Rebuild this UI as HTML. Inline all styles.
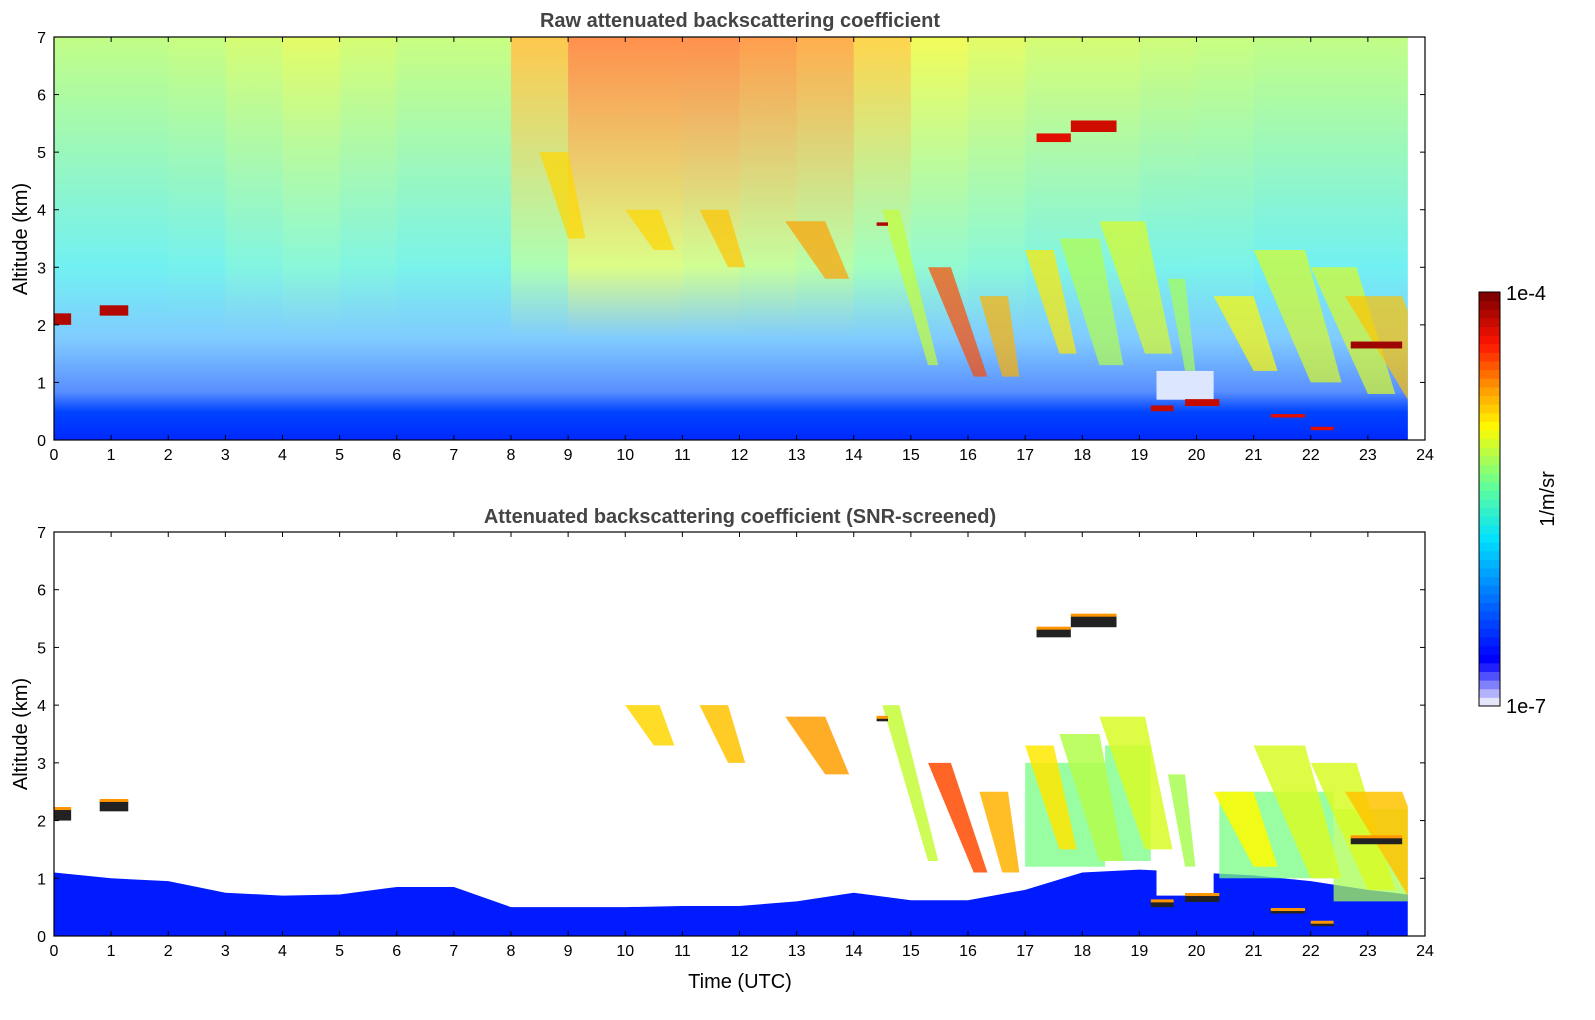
<!DOCTYPE html>
<html><head><meta charset="utf-8"><style>
html,body{margin:0;padding:0;background:#fff;overflow:hidden;width:1595px;height:1020px;}
svg{display:block;font-family:"Liberation Sans","DejaVu Sans",sans-serif;}
</style></head><body>
<svg id="fig" width="1595" height="1020" viewBox="0 0 1595 1020" xmlns="http://www.w3.org/2000/svg">
<defs id="defs"></defs>
<text x="740" y="27" text-anchor="middle" font-size="20" font-weight="bold" fill="#444">Raw attenuated backscattering coefficient</text>
<text x="740" y="523" text-anchor="middle" font-size="20" font-weight="bold" fill="#444">Attenuated backscattering coefficient (SNR-screened)</text>
<text x="740" y="988" text-anchor="middle" font-size="20" fill="#000">Time (UTC)</text>
<text transform="translate(27,239) rotate(-90)" text-anchor="middle" font-size="20">Altitude (km)</text>
<text transform="translate(27,734) rotate(-90)" text-anchor="middle" font-size="20">Altitude (km)</text>
<g id="top"></g>
<g id="bot"></g>
<g id="cbar"></g>
<text x="1506" y="300" font-size="20">1e-4</text>
<text x="1506" y="713" font-size="20">1e-7</text>
<text transform="translate(1554,499) rotate(-90)" text-anchor="middle" font-size="20">1/m/sr</text>
</svg>
<script>
// ---- data ----
const hours = [0,1,2,3,4,5,6,7,8,9,10,11,12,13,14,15,16,17,18,19,20,21,22,23,24];
const altTicks = [0,1,2,3,4,5,6,7];
// raw background level at 7 km and at 3 km per hour (0..1 colour index)
const bgTop = [0.55,0.55,0.56,0.58,0.6,0.58,0.56,0.56,0.72,0.8,0.8,0.8,0.78,0.76,0.7,0.62,0.6,0.58,0.58,0.57,0.56,0.55,0.55,0.55,0.55];
const bgMid = [0.36,0.36,0.37,0.4,0.42,0.4,0.38,0.38,0.5,0.58,0.58,0.56,0.54,0.52,0.48,0.44,0.42,0.4,0.4,0.38,0.38,0.36,0.36,0.36,0.36];
// boundary layer top (km) in screened panel
const blTop = [1.1,1.0,0.95,0.75,0.7,0.72,0.85,0.85,0.5,0.5,0.5,0.52,0.52,0.6,0.75,0.62,0.62,0.8,1.1,1.15,1.1,1.05,0.95,0.8,0.7];
// slanted ice-cloud streaks
const strT   = [8.5, 10.0,11.3,12.8,14.5,15.3,16.2,17.0,17.6,18.3,19.5,20.3,21.0,22.0,22.6];
const strTop = [5.0, 4.0, 4.0, 3.8, 4.0, 3.0, 2.5, 3.3, 3.5, 3.8, 2.8, 2.5, 3.3, 3.0, 2.5];
const strBot = [3.5, 3.3, 3.0, 2.8, 1.3, 1.1, 1.1, 1.5, 1.3, 1.5, 1.2, 1.2, 1.0, 0.8, 0.7];
const strDx  = [0.5, 0.5, 0.5, 0.7, 0.8, 0.8, 0.4, 0.6, 0.7, 0.8, 0.3, 0.7, 1.0, 1.0, 1.1];
const strW   = [0.5, 0.6, 0.5, 0.7, 0.3, 0.4, 0.5, 0.5, 0.7, 0.8, 0.3, 0.7, 0.9, 0.8, 1.0];
const strV   = [0.68,0.68,0.7, 0.74,0.58,0.82,0.72,0.66,0.56,0.6, 0.55,0.64,0.6, 0.6, 0.7];
const strShow= [0,   1,   1,   1,   1,   1,   1,   1,   1,   1,   1,   1,   1,   1,   1];
// dense cloud layers (rectangles)
const layT0 = [0.0,0.8,14.4,17.2,17.8,19.2,19.8,22.7,21.3,22.0];
const layT1 = [0.3,1.3,14.6,17.8,18.6,19.6,20.4,23.6,21.9,22.4];
const layA  = [2.1,2.25,3.75,5.25,5.45,0.55,0.65,1.65,0.42,0.2];
const layH  = [0.2,0.18,0.06,0.15,0.2,0.1,0.12,0.12,0.06,0.06];
const layV  = [0.95,0.95,0.95,0.9,0.92,0.93,0.93,0.97,0.9,0.9];
// screened-panel filled cirrus regions
const regT0 = [17.0,18.4,20.4,22.4];
const regT1 = [18.4,19.2,22.4,23.7];
const regB  = [1.2, 1.3, 1.0, 0.6];
const regTp = [3.0, 3.3, 2.5, 2.2];
const regV  = [0.5, 0.5, 0.5, 0.55];

const NS="http://www.w3.org/2000/svg";
const X0=54,X1=1425,DATA_END=23.7;
function xs(t){return X0+(X1-X0)*t/24;}
function ysT(a){return 440-403*a/7;}
function ysB(a){return 936-404*a/7;}
function cl(v){return Math.max(0,Math.min(1,v));}
function cmap(v){
  const st=[[0,[0,0,255]],[0.33,[0,225,255]],[0.48,[100,255,150]],[0.64,[255,250,0]],[0.75,[255,150,0]],[0.87,[255,20,0]],[1,[130,0,0]]];
  v=cl(v);
  for(let i=1;i<st.length;i++){if(v<=st[i][0]){const a=st[i-1],b=st[i];const f=(v-a[0])/(b[0]-a[0]);
    return 'rgb('+a[1].map((c,k)=>Math.round(c+(b[1][k]-c)*f)).join(',')+')';}}
  return 'rgb(130,0,0)';
}
function lighten(v,f){const m=cmap(v).match(/\d+/g).map(Number);return 'rgb('+m.map(c=>Math.round(c+(255-c)*f)).join(',')+')';}
function el(tag,attrs,parent){const e=document.createElementNS(NS,tag);for(const k in attrs)e.setAttribute(k,attrs[k]);parent.appendChild(e);return e;}
const defs=document.getElementById('defs');

function drawPanel(g,ys,raw){
  const y0=ys(0),y7=ys(7);
  const clipId=raw?'clipT':'clipB';
  const cp=el('clipPath',{id:clipId},defs);
  el('rect',{x:X0,y:y7,width:xs(DATA_END)-X0,height:y0-y7},cp);
  const inner=el('g',{'clip-path':'url(#'+clipId+')'},g);
  if(raw){
    for(let i=0;i<24;i++){
      const t1=Math.min(hours[i+1],DATA_END); if(hours[i]>=DATA_END)break;
      const gid='bg'+i;
      const lg=el('linearGradient',{id:gid,x1:0,y1:1,x2:0,y2:0},defs);
      el('stop',{offset:0,'stop-color':cmap(0.06)},lg);
      el('stop',{offset:0.07,'stop-color':cmap(0.1)},lg);
      el('stop',{offset:0.12,'stop-color':lighten(0.12,0.35)},lg);
      el('stop',{offset:0.25,'stop-color':lighten(0.22,0.5)},lg);
      el('stop',{offset:0.43,'stop-color':lighten(bgMid[i],0.4)},lg);
      el('stop',{offset:1,'stop-color':lighten(bgTop[i],0.3)},lg);
      const r=el('rect',{x:xs(hours[i]),y:y7,width:xs(t1)-xs(hours[i])+0.6,height:y0-y7,fill:'url(#'+gid+')'},inner);
      
      
    }
  } else {
    let pts=hours.filter(h=>h<=23).map((h,i)=>xs(h)+','+ys(blTop[i]));
    pts.push(xs(DATA_END)+','+ys(blTop[23]*0.9));
    pts.push(xs(DATA_END)+','+y0, xs(0)+','+y0);
    const p=el('polygon',{points:pts.join(' '),fill:cmap(0.04)},inner);
    
    
    for(let i=0;i<regT0.length;i++){
      const r=el('rect',{x:xs(regT0[i]),y:ys(regTp[i]),width:xs(regT1[i])-xs(regT0[i]),height:ys(regB[i])-ys(regTp[i]),fill:cmap(regV[i]),opacity:0.75},inner);
      
      
    }
  }
  for(let i=0;i<strT.length;i++){
    if(!raw && !strShow[i])continue;
    const top=strTop[i],bot=strBot[i];
    const pts=[[strT[i],top],[strT[i]+strW[i],top],[strT[i]+strDx[i]+strW[i]*0.6,bot],[strT[i]+strDx[i],bot]]
      .map(p=>xs(p[0])+','+ys(p[1])).join(' ');
    const p=el('polygon',{points:pts,fill:cmap(strV[i]),opacity:raw?0.7:0.85},inner);
    
    
  }
  const hole=el('rect',{x:xs(19.3),y:ys(1.2),width:xs(20.3)-xs(19.3),height:ys(0.7)-ys(1.2),fill:raw?'#dde6ff':'#fff'},inner);
  
  
  for(let i=0;i<layT0.length;i++){
    const r=el('rect',{x:xs(layT0[i]),y:ys(layA[i]+layH[i]/2),width:xs(layT1[i])-xs(layT0[i]),height:ys(0)-ys(layH[i]),fill:raw?cmap(layV[i]):'#222'},inner);
    
    
    if(!raw){
      const r2=el('rect',{x:xs(layT0[i]),y:ys(layA[i]+layH[i]/2)-2,width:xs(layT1[i])-xs(layT0[i]),height:3,fill:cmap(0.75)},inner);
      
      
    }
  }
  const fr=el('rect',{x:X0,y:y7,width:X1-X0,height:y0-y7,fill:'none',stroke:'#000','stroke-width':1.2},g);
  
  
  hours.forEach(h=>{
    el('line',{x1:xs(h),x2:xs(h),y1:y0,y2:y0-5,stroke:'#000'},g);
    el('line',{x1:xs(h),x2:xs(h),y1:y7,y2:y7+5,stroke:'#000'},g);
    const t=el('text',{x:xs(h),y:y0+20,'text-anchor':'middle','font-size':16},g);
    
    
    t.textContent=h;
  });
  altTicks.forEach(a=>{
    el('line',{x1:X0,x2:X0+5,y1:ys(a),y2:ys(a),stroke:'#000'},g);
    el('line',{x1:X1,x2:X1-5,y1:ys(a),y2:ys(a),stroke:'#000'},g);
    const t=el('text',{x:X0-8,y:ys(a)+6,'text-anchor':'end','font-size':16},g);
    
    
    t.textContent=a;
  });
}
drawPanel(document.getElementById('top'),ysT,true);
drawPanel(document.getElementById('bot'),ysB,false);
const cb=document.getElementById('cbar');
const N=48,CY0=706,CY1=292;
for(let i=0;i<N;i++){
  let fill;
  if(i<5){const lav=['#e6e6fa','#b3b3fb','#8080fc','#5050fd','#2020fe'];fill=lav[i];}
  else fill=cmap((i-5)/(N-6));
  const h=(CY0-CY1)/N;
  const r=el('rect',{x:1479,y:CY0-(i+1)*h,width:21,height:h+0.5,fill:fill},cb);
  
  
}
el('rect',{x:1479,y:CY1,width:21,height:CY0-CY1,fill:'none',stroke:'#000'},cb);
</script>
</body></html>
